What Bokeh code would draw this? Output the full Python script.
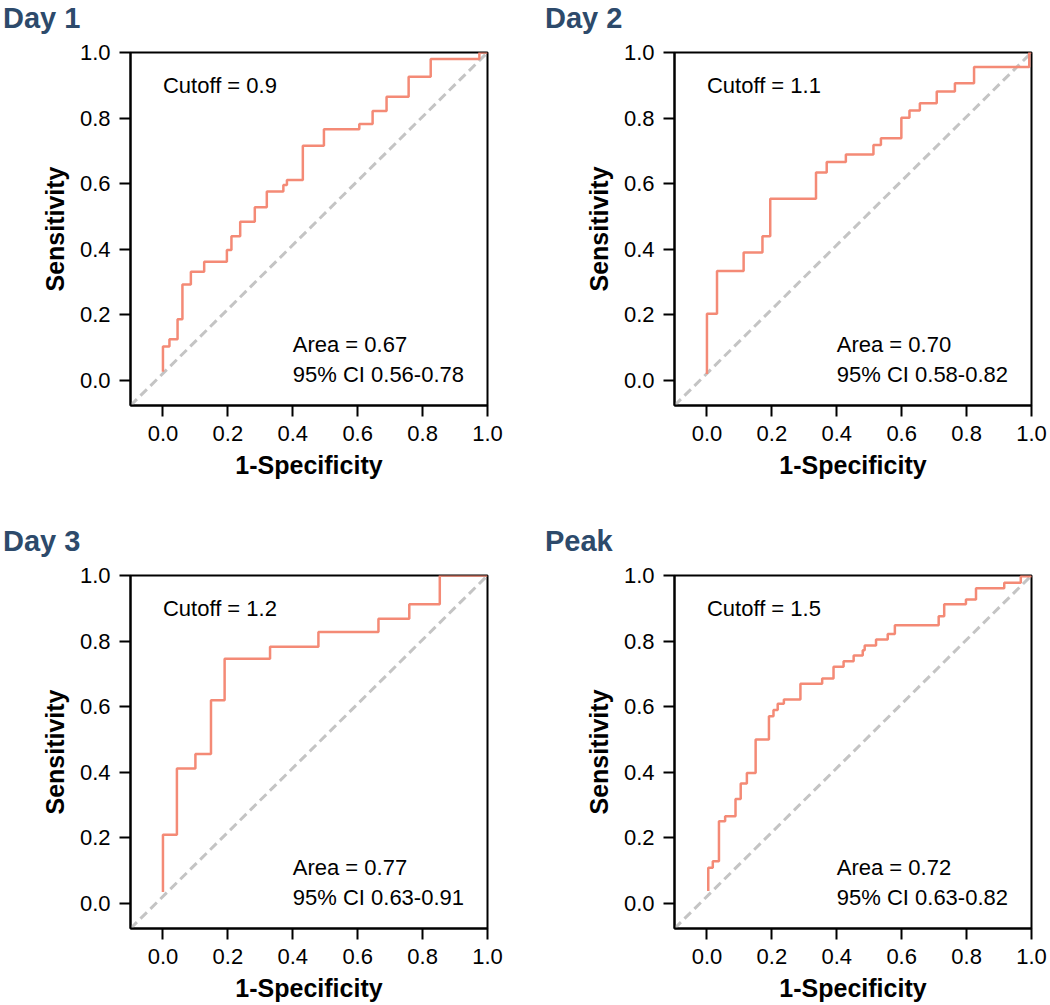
from bokeh.plotting import figure
from bokeh.models import Range1d, FixedTicker, NumeralTickFormatter, Div
from bokeh.layouts import column, row
from bokeh.core.properties import value
from bokeh.embed import file_html
from bokeh.resources import INLINE

# ---------------- data ----------------
PANEL_TITLES = ["Day 1", "Day 2", "Day 3", "Peak"]
CUTOFF_TEXT = ["Cutoff = 0.9", "Cutoff = 1.1", "Cutoff = 1.2", "Cutoff = 1.5"]
AREA_TEXT = ["Area = 0.67", "Area = 0.70", "Area = 0.77", "Area = 0.72"]
CI_TEXT = ["95% CI 0.56-0.78", "95% CI 0.58-0.82", "95% CI 0.63-0.91", "95% CI 0.63-0.82"]

TICKS = [0.0, 0.2, 0.4, 0.6, 0.8, 1.0]
X_RANGE = (-0.1, 1.0)
Y_RANGE = (-0.076, 1.0)

day1_fpr = [0.0, 0.0, 0.02, 0.045, 0.06, 0.086, 0.127, 0.197, 0.211, 0.238, 0.283, 0.32,
            0.371, 0.382, 0.431, 0.496, 0.605, 0.646, 0.689, 0.757, 0.825, 0.975, 1.0]
day1_tpr = [0.027, 0.104, 0.126, 0.187, 0.293, 0.332, 0.362, 0.398, 0.44, 0.484, 0.528, 0.576,
            0.596, 0.611, 0.716, 0.766, 0.782, 0.822, 0.865, 0.926, 0.98, 1.0, 1.0]

day2_fpr = [0.0, 0.0, 0.031, 0.113, 0.171, 0.195, 0.336, 0.369, 0.428, 0.513, 0.536, 0.599,
            0.624, 0.656, 0.708, 0.764, 0.823, 0.993, 1.0]
day2_tpr = [0.02, 0.204, 0.334, 0.39, 0.44, 0.554, 0.634, 0.666, 0.689, 0.718, 0.739, 0.801,
            0.823, 0.845, 0.881, 0.906, 0.956, 1.0, 1.0]

day3_fpr = [0.0, 0.0, 0.043, 0.1, 0.148, 0.19, 0.33, 0.479, 0.664, 0.759, 0.853, 1.0]
day3_tpr = [0.035, 0.21, 0.412, 0.456, 0.62, 0.746, 0.783, 0.828, 0.868, 0.912, 1.0, 1.0]

peak_fpr = [0.004, 0.004, 0.018, 0.037, 0.056, 0.088, 0.104, 0.123, 0.15, 0.191,
            0.205, 0.218, 0.237, 0.288, 0.355, 0.39, 0.421, 0.452, 0.48, 0.486,
            0.521, 0.557, 0.579, 0.714, 0.731, 0.798, 0.829, 0.916, 0.967, 1.0]
peak_tpr = [0.038, 0.109, 0.129, 0.251, 0.266, 0.319, 0.366, 0.398, 0.5, 0.571,
            0.59, 0.609, 0.622, 0.67, 0.686, 0.722, 0.739, 0.756, 0.772, 0.787,
            0.805, 0.822, 0.848, 0.876, 0.912, 0.927, 0.961, 0.978, 0.998, 1.0]

FPRS = [day1_fpr, day2_fpr, day3_fpr, peak_fpr]
TPRS = [day1_tpr, day2_tpr, day3_tpr, peak_tpr]

# ---------------- style ----------------
FONT = "Liberation Sans"
CURVE_COLOR = "#f48a76"
DIAG_COLOR = "#c4c4c4"
TITLE_COLOR = "#2d4a6b"

HEAD_LEFT_W = 542
HEAD_RIGHT_W = 506
HEAD_H = 40


def make_heading(i, width):
    return Div(text=PANEL_TITLES[i], width=width, height=HEAD_H, margin=0,
               styles={"font-family": FONT, "font-size": "29px", "font-weight": "bold",
                       "color": TITLE_COLOR, "line-height": "29px",
                       "padding-top": "4px", "padding-left": "3px",
                       "box-sizing": "border-box", "white-space": "nowrap"})


def make_panel(i, border_left, border_right, border_bottom):
    p = figure(frame_width=357, frame_height=353,
               x_range=Range1d(*X_RANGE), y_range=Range1d(*Y_RANGE),
               output_backend="svg", toolbar_location=None,
               min_border_left=border_left, min_border_right=border_right,
               min_border_top=12, min_border_bottom=border_bottom)

    p.grid.visible = False
    p.outline_line_color = "black"
    p.outline_line_width = 2
    p.outline_line_alpha = 1.0
    p.background_fill_color = "white"
    p.border_fill_color = "white"

    for ax in (p.xaxis[0], p.yaxis[0]):
        ax.ticker = FixedTicker(ticks=TICKS)
        ax.formatter = NumeralTickFormatter(format="0.0")
        ax.major_tick_out = 11
        ax.major_tick_in = 0
        ax.minor_tick_out = 0
        ax.minor_tick_in = 0
        ax.major_tick_line_width = 2
        ax.major_tick_line_color = "black"
        ax.axis_line_width = 2
        ax.axis_line_color = "black"
        ax.major_label_text_font = FONT
        ax.major_label_text_font_size = "22px"
        ax.major_label_text_color = "black"
        ax.axis_label_text_font = FONT
        ax.axis_label_text_font_size = "25px"
        ax.axis_label_text_font_style = "bold"
        ax.axis_label_text_color = "black"
    p.xaxis.major_label_standoff = 9
    p.yaxis.major_label_standoff = 9
    p.xaxis.axis_label = "1-Specificity"
    p.yaxis.axis_label = "Sensitivity"
    p.xaxis.axis_label_standoff = 7
    p.yaxis.axis_label_standoff = 8

    # chance diagonal, corner to corner of the plotting window
    p.line(x=[X_RANGE[0], X_RANGE[1]], y=[Y_RANGE[0], Y_RANGE[1]],
           line_color=DIAG_COLOR, line_width=3, line_dash="9 5")

    p.step(x=FPRS[i], y=TPRS[i], mode="after",
           line_color=CURVE_COLOR, line_width=2.5)

    p.text(x=[0.0], y=[0.9], text=[CUTOFF_TEXT[i]],
           text_font=value(FONT), text_font_size=value("22px"),
           text_baseline="middle", text_align="left", text_color="black")
    p.text(x=[0.4, 0.4], y=[0.11, 0.02], text=[AREA_TEXT[i], CI_TEXT[i]],
           text_font=value(FONT), text_font_size=value("22px"),
           text_baseline="middle", text_align="left", text_color="black")
    return p


p1 = make_panel(0, 130, 65, 118)
p2 = make_panel(1, 122, 17, 118)
p3 = make_panel(2, 130, 65, 77)
p4 = make_panel(3, 122, 17, 77)

layout = column(
    row(make_heading(0, HEAD_LEFT_W), make_heading(1, HEAD_RIGHT_W), spacing=0),
    row(p1, p2, spacing=0),
    row(make_heading(2, HEAD_LEFT_W), make_heading(3, HEAD_RIGHT_W), spacing=0),
    row(p3, p4, spacing=0),
    spacing=0,
)

open("out.html", "w").write(file_html(layout, INLINE))
